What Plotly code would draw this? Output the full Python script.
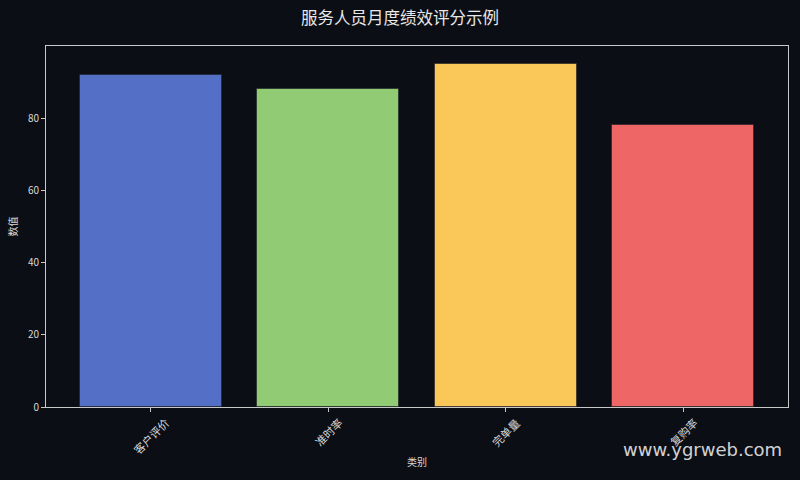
import plotly.graph_objects as go

categories = ['客户评价', '准时率', '完单量', '复购率']
values = [92, 88, 95, 78]
bar_colors = ['#5470c6', '#91cc75', '#fac858', '#ee6666']

font_cn = 'Noto Sans CJK SC'
bg = '#0b0e14'
xpos = list(range(len(categories)))

fig = go.Figure()
fig.add_trace(go.Bar(x=xpos, y=values,
                     width=0.8,
                     marker=dict(color=bar_colors,
                                 line=dict(color='rgba(30,30,40,0.6)', width=1))))

fig.update_layout(
    width=800, height=480,
    paper_bgcolor=bg, plot_bgcolor=bg,
    margin=dict(l=46, r=12, t=46, b=73),
    font=dict(family=font_cn, color='#d8d8d8', size=10),
    title=dict(text='服务人员月度绩效评分示例', x=0.5, xanchor='center',
               y=0.962, yanchor='middle', font=dict(size=16.5, color='#e8e8e8')),
    showlegend=False,
    bargap=0,
)
# tick labels drawn as rotated annotations so they centre on the ticks (matplotlib style)
fig.update_xaxes(range=[-0.59, 3.59], tickvals=xpos,
                 ticktext=['' for _ in categories],
                 showline=True, linecolor='#c8c8c8', linewidth=1, mirror=True,
                 ticks='outside', ticklen=4, tickcolor='#c8c8c8',
                 showgrid=False, zeroline=False,
                 title=dict(text='类别', font=dict(size=10), standoff=45))
fig.update_yaxes(range=[0, 100], tickvals=[0, 20, 40, 60, 80],
                 showline=True, linecolor='#c8c8c8', linewidth=1, mirror=True,
                 ticks='outside', ticklen=4, tickcolor='#c8c8c8',
                 showgrid=False, zeroline=False,
                 title=dict(text='数值', font=dict(size=10), standoff=8))

for xi, cat in zip(xpos, categories):
    fig.add_annotation(text=cat, x=xi, y=0, xref='x', yref='paper',
                       xanchor='center', yanchor='top', yshift=-5,
                       textangle=-45, showarrow=False,
                       font=dict(size=11, color='#d8d8d8'))

# watermark
fig.add_annotation(text='www.ygrweb.com', xref='paper', yref='paper',
                   x=0.995, y=-0.117, xanchor='right', yanchor='middle',
                   showarrow=False,
                   font=dict(family='DejaVu Sans', size=18, color='rgba(235,235,235,0.9)'))

# page margin off so the figure sits at the window corner
fig.write_html("out.html", config={'displayModeBar': False},
               post_script="document.body.style.margin='0';"
                           "document.body.style.background='#0b0e14';")
